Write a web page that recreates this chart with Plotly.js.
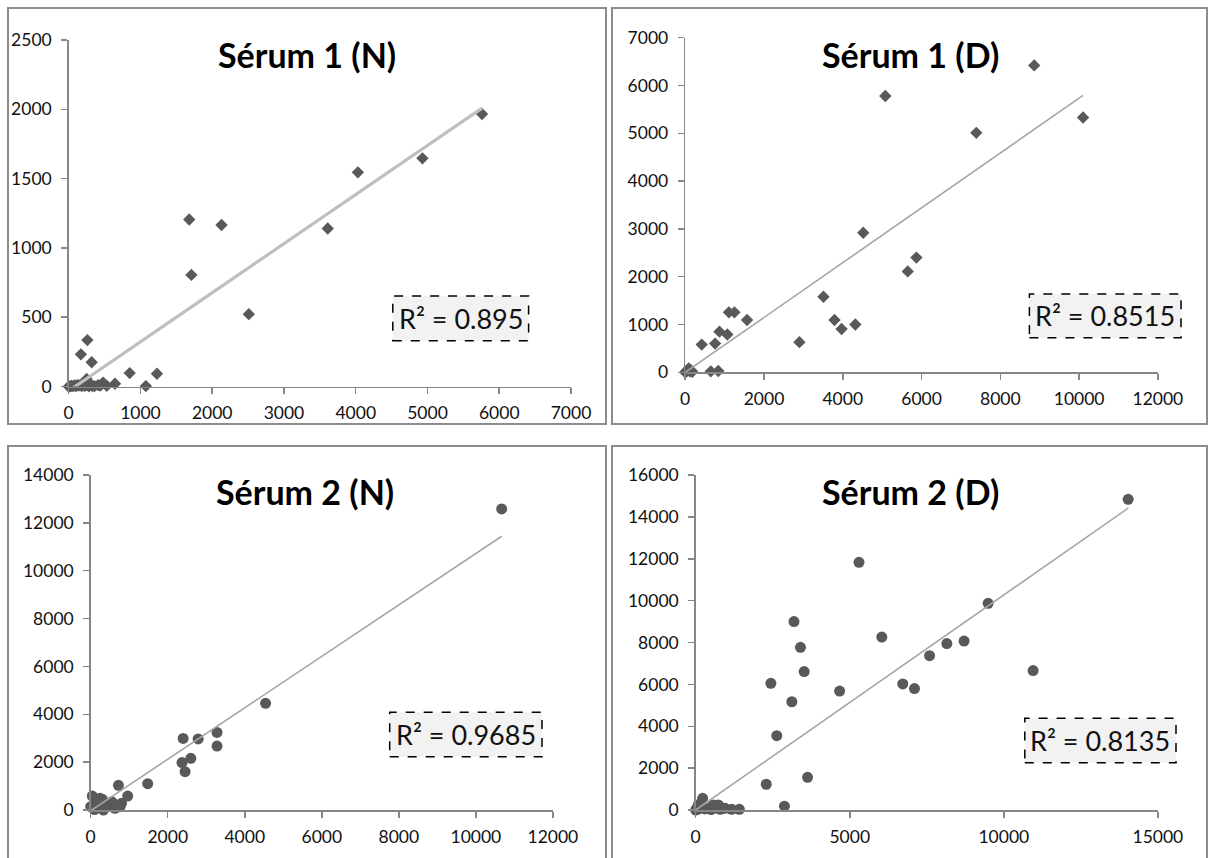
<!DOCTYPE html>
<html>
<head>
<meta charset="utf-8">
<script src="https://cdn.plot.ly/plotly-3.0.1.min.js"></script>
<style>
  html, body { margin: 0; padding: 0; background: #ffffff; }
  #chart { width: 1209px; height: 858px; }
</style>
</head>
<body>
<div id="chart"></div>
<script>
// ---------- DATA ----------
const titles = ["Sérum 1 (N)", "Sérum 1 (D)", "Sérum 2 (N)", "Sérum 2 (D)"];
const r2Labels = ["R² = 0.895", "R² = 0.8515", "R² = 0.9685", "R² = 0.8135"];

const serum1N_x = [5760, 4930, 4030, 3610, 1680, 2130, 1710, 2510, 260, 170, 320, 850, 1230, 1075, 645, 480, 530, 410, 250,
                   0, 20, 40, 60, 80, 100, 120, 140, 160, 180, 200, 220, 240, 280, 300, 330, 360, 440];
const serum1N_y = [1966, 1646, 1545, 1140, 1205, 1165, 805, 522, 335, 232, 175, 97, 92, 3, 20, 28, 5, 10, 55,
                   0, 2, 5, 3, 8, 4, 10, 6, 12, 3, 15, 5, 8, 2, 10, 4, 3, 6];

const serum1D_x = [8860, 5080, 10100, 7390, 4520, 5870, 5650, 3510, 3790, 3970, 4320, 2900, 1570, 1110, 1250, 870, 1070, 420, 760, 650, 840,
                   0, 20, 40, 60, 90, 120, 150, 180];
const serum1D_y = [6420, 5780, 5330, 5010, 2920, 2400, 2110, 1580, 1095, 905, 1000, 630, 1095, 1255, 1255, 850, 790, 580, 600, 20, 28,
                   0, 10, 30, 50, 80, 20, 40, 10];

const serum2N_x = [10670, 4540, 3280, 3280, 2790, 2400, 2370, 2450, 2600, 1480, 960, 720, 40, 240, 545, 800, 630, 330, 0, 70, 420, 160, 760, 200, 300, 500, 100, 680];
const serum2N_y = [12580, 4460, 3240, 2670, 2970, 2990, 1980, 1600, 2160, 1100, 580, 1030, 580, 490, 350, 280, 70, 0, 140, 70, 140, 280, 140, 380, 450, 150, 20, 200];

const serum2D_x = [14035, 5300, 3190, 3400, 3520, 6040, 9490, 8150, 8710, 7590, 6720, 7100, 10950, 4670, 2440, 3120, 2630, 3630, 2290, 2880,
                   0, 50, 85, 226, 150, 300, 410, 573, 735, 650, 951, 1168, 1416, 500, 800, 100, 200];
const serum2D_y = [14840, 11830, 9000, 7770, 6610, 8260, 9870, 7950, 8070, 7370, 6020, 5800, 6660, 5680, 6050, 5170, 3550, 1560, 1230, 180,
                   0, 100, 240, 560, 300, 50, 80, 240, 240, 100, 80, 30, 30, 20, 30, 50, 150];

// linear trend lines (slope, intercept)
const trendSlope = [0.3542, 0.5735, 1.075, 1.027];
const trendIntercept = [-32, 0, -30, 0];

// axis ranges and tick steps
const xMax = [7000, 12000, 12000, 15000];
const xStep = [1000, 2000, 2000, 5000];
const yMax = [2500, 7000, 14000, 16000];
const yStep = [500, 1000, 2000, 2000];

// ---------- LAYOUT ----------
const W = 1209, H = 858;
const px = v => v / W;
const py = v => 1 - v / H;

const seriesX = [serum1N_x, serum1D_x, serum2N_x, serum2D_x];
const seriesY = [serum1N_y, serum1D_y, serum2N_y, serum2D_y];
const symbols = ["diamond", "diamond", "circle", "circle"];
const mSizes = [9.5, 9.5, 11, 11];
const trendColors = ["#bfbfbf", "#a6a6a6", "#a6a6a6", "#a6a6a6"];
const trendWidths = [3.2, 1.6, 1.6, 1.6];

// plot areas in pixels: [left, right, top, bottom]
const areas = [
  [68.7, 571, 40, 386.5],
  [685.2, 1157.9, 37.7, 372.3],
  [90.7, 552.9, 475, 810],
  [695.7, 1157.9, 475, 810]
];
const frames = [
  [8, 606, 8, 424],
  [612, 1207, 8, 424],
  [8, 606, 446, 880],
  [612, 1207, 446, 880]
];
const titlePos = [[307, 55], [910, 55], [305, 491], [910, 491]];
const boxPos = [
  [392.8, 528.6, 296, 340.7],
  [1029.4, 1181, 294, 337.7],
  [389.7, 542, 712.3, 756.7],
  [1024.8, 1176, 718.3, 762.7]
];

const FONT = "Lato, 'Open Sans', sans-serif";
const axisColor = "#868686";

const traces = [];
const layout = {
  width: W, height: H,
  margin: {l: 0, r: 0, t: 0, b: 0},
  paper_bgcolor: "#ffffff",
  plot_bgcolor: "#ffffff",
  showlegend: false,
  font: {family: FONT, color: "#111111"},
  shapes: [],
  annotations: []
};

for (let i = 0; i < 4; i++) {
  const xa = i === 0 ? "x" : "x" + (i + 1);
  const ya = i === 0 ? "y" : "y" + (i + 1);
  const xs = seriesX[i], ys = seriesY[i];

  traces.push({
    type: "scatter", mode: "markers",
    x: xs, y: ys, xaxis: xa, yaxis: ya,
    cliponaxis: false,
    marker: {symbol: symbols[i], size: mSizes[i], color: "#595959", line: {width: 0}},
    hoverinfo: "x+y"
  });

  const x0 = Math.min(...xs), x1 = Math.max(...xs);
  traces.push({
    type: "scatter", mode: "lines",
    x: [x0, x1],
    y: [trendSlope[i] * x0 + trendIntercept[i], trendSlope[i] * x1 + trendIntercept[i]],
    xaxis: xa, yaxis: ya,
    line: {color: trendColors[i], width: trendWidths[i]},
    hoverinfo: "skip"
  });

  const a = areas[i];
  const axisCommon = {
    showgrid: false, zeroline: false, showline: true,
    linecolor: axisColor, linewidth: 1.5,
    ticks: "outside", ticklen: 6, tickwidth: 1.5, tickcolor: axisColor,
    tickfont: {family: FONT, size: 17.5, color: "#111111"},
    tickformat: "d", exponentformat: "none", separatethousands: false,
    fixedrange: true
  };
  layout["xaxis" + (i === 0 ? "" : i + 1)] = Object.assign({}, axisCommon, {
    domain: [px(a[0]), px(a[1])],
    range: [0, xMax[i]], dtick: xStep[i], tick0: 0,
    anchor: ya, ticklabelstandoff: 4
  });
  layout["yaxis" + (i === 0 ? "" : i + 1)] = Object.assign({}, axisCommon, {
    domain: [py(a[3]), py(a[2])],
    range: [0, yMax[i]], dtick: yStep[i], tick0: 0,
    anchor: xa, ticklabelstandoff: 6
  });

  const f = frames[i];
  layout.shapes.push({
    type: "rect", xref: "paper", yref: "paper",
    x0: px(f[0]), x1: px(f[1]), y0: py(f[3]), y1: py(f[2]),
    line: {color: "#8c8c8c", width: 2}, fillcolor: "rgba(0,0,0,0)", layer: "below"
  });

  const b = boxPos[i];
  layout.shapes.push({
    type: "rect", xref: "paper", yref: "paper",
    x0: px(b[0]), x1: px(b[1]), y0: py(b[3]), y1: py(b[2]),
    line: {color: "#000000", width: 1.5, dash: "dash"}, fillcolor: "#f2f2f2", layer: "above"
  });
  layout.annotations.push({
    xref: "paper", yref: "paper",
    x: px((b[0] + b[1]) / 2), y: py((b[2] + b[3]) / 2),
    xanchor: "center", yanchor: "middle",
    text: r2Labels[i], showarrow: false,
    font: {family: FONT, size: 27, color: "#111111"}
  });

  const t = titlePos[i];
  layout.annotations.push({
    xref: "paper", yref: "paper",
    x: px(t[0]), y: py(t[1]),
    xanchor: "center", yanchor: "middle",
    text: "<b>" + titles[i] + "</b>", showarrow: false,
    font: {family: FONT, size: 34, color: "#000000"}
  });
}

Plotly.newPlot("chart", traces, layout, {staticPlot: true, displayModeBar: false});
</script>
</body>
</html>
